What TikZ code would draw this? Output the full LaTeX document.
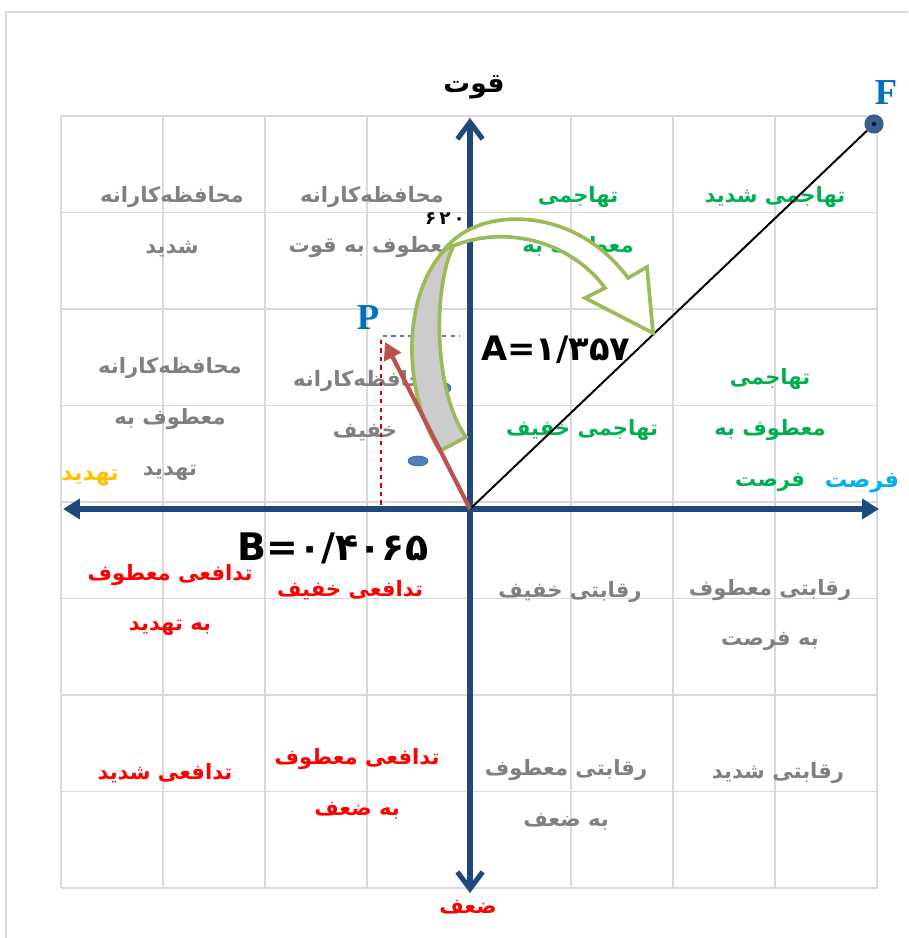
\documentclass[tikz,border=0pt]{standalone}
\usepackage{fontspec}
\usetikzlibrary{arrows.meta}
\newfontfamily\farsi[Script=Arabic]{DejaVu Sans}
\newfontfamily\latserif{Liberation Serif}
\TeXXeTstate=1
\newcommand\fa[1]{\beginR #1\endR}
\definecolor{axisblue}{RGB}{31,73,125}
\definecolor{gridgray}{RGB}{217,217,217}
\definecolor{txtgray}{RGB}{128,128,128}
\definecolor{txtgreen}{RGB}{0,176,80}
\definecolor{txtred}{RGB}{255,0,0}
\definecolor{oppblue}{RGB}{0,176,240}
\definecolor{threatgold}{RGB}{255,192,0}
\definecolor{bandgreen}{RGB}{155,187,89}
\definecolor{vecred}{RGB}{192,80,77}
\definecolor{ptblue}{RGB}{0,112,192}
\definecolor{dotblue}{RGB}{79,129,189}
\definecolor{fblue}{RGB}{59,94,145}

\begin{document}
\begin{tikzpicture}
[x=0.025cm,y=-0.025cm,cell/.style={font=\farsi\bfseries\fontsize{15}{36}\selectfont,align=center,inner sep=0pt},gcell/.style={cell,text=txtgray},acell/.style={cell,text=txtgreen},dcell/.style={cell,text=txtred},axislabel/.style={font=\farsi\bfseries\fontsize{16}{20}\selectfont,inner sep=0pt},gridline/.style={draw=gridgray,line width=1.4pt},axis/.style={draw=axisblue,line width=3.6pt},bandback/.style={draw=bandgreen,fill=gray!40,line width=2.6pt,line join=miter},bandfront/.style={draw=bandgreen,fill=white,line width=2.6pt,line join=miter},ptlabel/.style={font=\latserif\bfseries\fontsize{26}{28}\selectfont,text=ptblue,inner sep=0pt},value/.style={font=\farsi\bfseries\fontsize{24}{28}\selectfont,inner sep=0pt},]
\useasboundingbox (0,0) rectangle (908,938);
\draw[gridgray,line width=1.4pt] (6,938) -- (6,12) -- (908,12);
% grid
\foreach \i in {0,...,8}
{
	\draw[gridline] (61+102*\i,116) -- (61+102*\i,888);
	\draw[gridline] (61,116+96.5*\i) -- (877,116+96.5*\i);
}
% cells
\node[gcell] (defstrong) at (172,222) {\fa{محافظه‌کارانه}\\\fa{شدید}};
\node[gcell] (defstr) at (372,222) {\fa{محافظه‌کارانه}\\\fa{معطوف به قوت}};
\node[gcell] (defthr) at (170,419) {\fa{محافظه‌کارانه}\\\fa{معطوف به}\\\fa{تهدید}};
\node[gcell] (deflight) at (365,406) {\fa{محافظه‌کارانه}\\\fa{خفیف}};
\node[acell] (aggstrong) at (775,197) {\fa{تهاجمی شدید}};
\node[acell] (aggstr) at (578,222) {\fa{تهاجمی}\\\fa{معطوف به}};
\node[acell] (aggopp) at (770,430) {\fa{تهاجمی}\\\fa{معطوف به}\\\fa{فرصت}};
\node[acell] (agglight) at (582,430) {\fa{تهاجمی خفیف}};
\node[dcell] (prothr) at (170,600) {\fa{تدافعی معطوف}\\\fa{به تهدید}};
\node[dcell] (prolight) at (350,590) {\fa{تدافعی خفیف}};
\node[dcell] (prostrong) at (165,773) {\fa{تدافعی شدید}};
\node[dcell] (proweak) at (357,784) {\fa{تدافعی معطوف}\\\fa{به ضعف}};
\node[gcell] (complight) at (570,592) {\fa{رقابتی خفیف}};
\node[gcell] (compopp) at (770,615) {\fa{رقابتی معطوف}\\\fa{به فرصت}};
\node[gcell] (compstrong) at (778,773) {\fa{رقابتی شدید}};
\node[gcell] (compweak) at (566,795) {\fa{رقابتی معطوف}\\\fa{به ضعف}};
% axes
\coordinate (O) at (470,509);
\coordinate (top) at (470,118);
\coordinate (bottom) at (470,893);
\coordinate (left) at (63,509);
\coordinate (right) at (879,509);
\draw[axis,{Straight Barb[length=12pt,width=18pt]}-{Straight Barb[length=12pt,width=18pt]}] (bottom) -- (top);
\draw[axis,{Triangle[length=12pt,width=14pt]}-{Triangle[length=12pt,width=14pt]}] (left) -- (right);
\node[axislabel,font=\farsi\bfseries\fontsize{19}{22}\selectfont] (strength) at (474,87) {\fa{قوت}};
\node[axislabel,text=txtred,font=\farsi\bfseries\fontsize{15}{20}\selectfont] (weakness) at (468,907) {\fa{ضعف}};
\node[axislabel,text=oppblue] (opportunity) at (862,483) {\fa{فرصت}};
\node[axislabel,text=threatgold] (threat) at (90,478) {\fa{تهدید}};
% F
\node[circle,fill=fblue,minimum size=0.48cm,inner sep=0pt] (F) at (874,124) {};
\fill[black] (F) circle (2);
\node[ptlabel] (Flabel) at (886,93) {F};
\draw[line width=1.4pt] (O) -- (F);
\node[value] (A) at (556,350) {A=۱/۳۵۷};
\node[value,font=\farsi\bfseries\fontsize{27}{30}\selectfont] (B) at (333,548) {B=۰/۴۰۶۵};
\node[font=\farsi\bfseries\fontsize{13}{14}\selectfont,inner sep=0pt] (angle) at (445,219) {۶\,۲\,۰};
% P
\coordinate (Ptip) at (385,342);
\coordinate (Pfoot) at (381,508);
\coordinate (Pend) at (460,336);
\node[ptlabel] (P) at (368,318) {P};
\draw[dotblue,dashed,line width=0.8pt] (383,336) -- (Pend);
\draw[red!80!black,dashed,line width=1pt] (381,340) -- (Pfoot);
\draw[fill=dotblue,draw=dotblue!70!black] (441,388) ellipse (10 and 6);
\draw[fill=dotblue,draw=dotblue!70!black] (418,461) ellipse (10 and 5);
% curved arrow
\draw[bandback] (466,437) -- (440,451) .. controls (400,390) and (400,280) .. (458,238) .. controls (432,275) and (432,390) .. (466,437) -- cycle;
\draw[bandfront] (444,250) .. controls (478,205) and (575,205) .. (628,278) -- (647,267) -- (653,333) -- (585,298) -- (605,288) .. controls (570,240) and (500,222) .. (444,250) -- cycle;
\draw[vecred,line width=3pt,-{Triangle[length=12pt,width=13pt]}] (O) -- (Ptip);
\end{tikzpicture}
\end{document}
